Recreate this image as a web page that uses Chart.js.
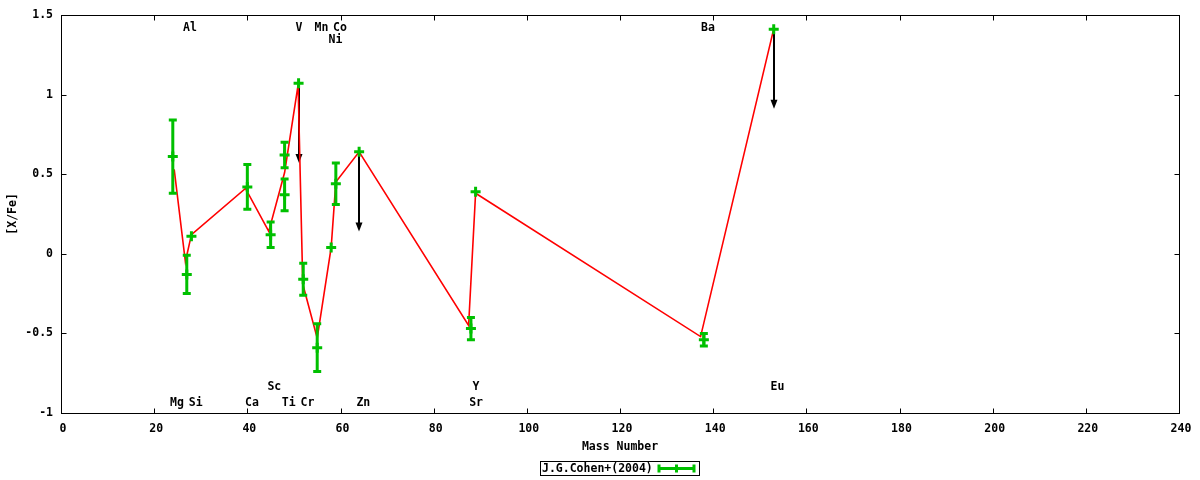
<!DOCTYPE html>
<html>
<head>
<meta charset="utf-8">
<script src="https://cdn.jsdelivr.net/npm/chart.js@4.4.1/dist/chart.umd.min.js"></script>
<style>
html, body { margin: 0; padding: 0; background: #fff; }
#wrap { width: 1200px; height: 480px; }
</style>
</head>
<body>
<div id="wrap"><canvas id="abundChart" width="1200" height="480"></canvas></div>
<script>
// J.G.Cohen+(2004) abundances
const elements   = ['Mg', 'Al', 'Si', 'Ca', 'Sc', 'Ti', 'Ti', 'V', 'Cr', 'Mn', 'Ni', 'Co', 'Zn', 'Sr', 'Y', 'Ba', 'Eu'];
const massNumber = [24, 27, 28, 40, 45, 48, 48, 51, 52, 55, 58, 59, 64, 88, 89, 138, 153];
const xFe        = [0.61, -0.13, 0.11, 0.42, 0.12, 0.62, 0.37, 1.07, -0.16, -0.59, 0.04, 0.44, 0.64, -0.47, 0.39, -0.54, 1.41];
const xFeErr     = [0.23, 0.12, 0, 0.14, 0.08, 0.08, 0.10, 0, 0.10, 0.15, 0, 0.13, 0, 0.07, 0, 0.04, 0];
const upperLimit = [0, 0, 0, 0, 0, 0, 0, 1, 0, 0, 0, 0, 1, 0, 0, 0, 1];
const limitDrop  = 0.5;

// red connecting line
const lineMass = [24.3, 26.7, 28.0, 39.6, 44.6, 48.0, 50.9, 51.9, 55.0, 58.0, 59.0, 64.0, 87.5, 89.0, 137.3, 152.9];
const lineXFe  = [0.53, -0.05, 0.12, 0.41, 0.14, 0.51, 1.06, -0.19, -0.53, 0.04, 0.45, 0.64, -0.45, 0.38, -0.52, 1.40];

// element name labels
const labelText = ['Al', 'V', 'Mn', 'Co', 'Ba', 'Ni', 'Sc', 'Y', 'Eu', 'Mg', 'Si', 'Ca', 'Ti', 'Cr', 'Zn', 'Sr'];
const labelMass = [27.7, 51.1, 55.9, 59.9, 138.9, 58.9, 45.8, 89.1, 153.8, 24.9, 28.9, 41.0, 48.9, 52.9, 64.9, 89.1];
const labelXFe  = [1.42, 1.42, 1.42, 1.42, 1.42, 1.345, -0.835, -0.835, -0.835, -0.94, -0.94, -0.94, -0.94, -0.94, -0.94, -0.94];

const xTicks = [0, 20, 40, 60, 80, 100, 120, 140, 160, 180, 200, 220, 240];
const yTicks = [-1, -0.5, 0, 0.5, 1, 1.5];

const GREEN = '#00c000';
const FONT = { family: '"DejaVu Sans Mono", "Liberation Mono", monospace', size: 11.5, weight: 'bold' };
const fontStr = 'bold 11.5px "DejaVu Sans Mono", "Liberation Mono", monospace';

function arrowDown(ctx, x, y0, y1) {
  ctx.strokeStyle = '#000';
  ctx.fillStyle = '#000';
  ctx.lineWidth = 2;
  ctx.beginPath();
  ctx.moveTo(x, y0);
  ctx.lineTo(x, y1 - 4);
  ctx.stroke();
  ctx.beginPath();
  ctx.moveTo(x - 3.5, y1 - 9);
  ctx.lineTo(x + 3.5, y1 - 9);
  ctx.lineTo(x, y1);
  ctx.closePath();
  ctx.fill();
}

const gnuplotStyle = {
  id: 'gnuplotStyle',
  beforeDatasetsDraw(chart) {
    const ctx = chart.ctx, xs = chart.scales.x, ys = chart.scales.y;
    ctx.save();
    massNumber.forEach((m, i) => {
      if (!upperLimit[i]) return;
      const px = Math.round(xs.getPixelForValue(m));
      arrowDown(ctx, px, ys.getPixelForValue(xFe[i]), ys.getPixelForValue(xFe[i] - limitDrop));
    });
    ctx.restore();
  },
  afterDatasetsDraw(chart) {
    const ctx = chart.ctx, xs = chart.scales.x, ys = chart.scales.y;
    ctx.save();
    // error bars
    ctx.strokeStyle = GREEN;
    ctx.lineWidth = 3;
    massNumber.forEach((m, i) => {
      if (!xFeErr[i]) return;
      const px = xs.getPixelForValue(m);
      const top = ys.getPixelForValue(xFe[i] + xFeErr[i]);
      const bot = ys.getPixelForValue(xFe[i] - xFeErr[i]);
      ctx.beginPath();
      ctx.moveTo(px, top); ctx.lineTo(px, bot);
      ctx.moveTo(px - 4, top); ctx.lineTo(px + 4, top);
      ctx.moveTo(px - 4, bot); ctx.lineTo(px + 4, bot);
      ctx.stroke();
    });
    // element labels
    ctx.fillStyle = '#000';
    ctx.font = fontStr;
    ctx.textAlign = 'center';
    ctx.textBaseline = 'middle';
    labelText.forEach((t, i) => {
      ctx.fillText(t, xs.getPixelForValue(labelMass[i]), ys.getPixelForValue(labelXFe[i]));
    });
    ctx.restore();
  },
  afterDraw(chart) {
    const ctx = chart.ctx, a = chart.chartArea, xs = chart.scales.x, ys = chart.scales.y;
    const L = Math.round(a.left) + 0.5, R = Math.round(a.right) + 0.5;
    const T = Math.round(a.top) + 0.5, B = Math.round(a.bottom) + 0.5;
    ctx.save();
    ctx.strokeStyle = '#000';
    ctx.lineWidth = 1;
    ctx.strokeRect(L, T, R - L, B - T);
    ctx.beginPath();
    xTicks.forEach(v => {
      const px = Math.round(xs.getPixelForValue(v)) + 0.5;
      ctx.moveTo(px, B); ctx.lineTo(px, B - 5);
      ctx.moveTo(px, T); ctx.lineTo(px, T + 5);
    });
    yTicks.forEach(v => {
      const py = Math.round(ys.getPixelForValue(v)) + 0.5;
      ctx.moveTo(L, py); ctx.lineTo(L + 5, py);
      ctx.moveTo(R, py); ctx.lineTo(R - 5, py);
    });
    ctx.stroke();

    // legend box
    const bx = 540.5, by = 461.5, bw = 159, bh = 14;
    ctx.strokeRect(bx, by, bw, bh);
    ctx.fillStyle = '#000';
    ctx.font = fontStr;
    ctx.textAlign = 'left';
    ctx.textBaseline = 'middle';
    ctx.fillText('J.G.Cohen+(2004)', 542, by + bh / 2 + 0.5);
    const ly = by + bh / 2, lx0 = 659, lx1 = 694;
    ctx.strokeStyle = GREEN;
    ctx.lineWidth = 3;
    ctx.beginPath();
    ctx.moveTo(lx0, ly); ctx.lineTo(lx1, ly);
    ctx.moveTo(lx0, ly - 4); ctx.lineTo(lx0, ly + 4);
    ctx.moveTo(lx1, ly - 4); ctx.lineTo(lx1, ly + 4);
    ctx.moveTo((lx0 + lx1) / 2, ly - 4); ctx.lineTo((lx0 + lx1) / 2, ly + 4);
    ctx.stroke();
    ctx.restore();
  }
};

const ctx = document.getElementById('abundChart').getContext('2d');
const abundChart = new Chart(ctx, {
  type: 'scatter',
  data: {
    datasets: [
      {
        label: 'J.G.Cohen+(2004)',
        data: massNumber.map((m, i) => ({ x: m, y: xFe[i] })),
        pointStyle: 'cross',
        pointRadius: 5,
        pointHoverRadius: 5,
        pointBorderColor: GREEN,
        pointBorderWidth: 3,
        borderColor: GREEN,
        showLine: false
      },
      {
        label: 'line',
        data: lineMass.map((m, i) => ({ x: m, y: lineXFe[i] })),
        showLine: true,
        pointRadius: 0,
        borderColor: '#ff0000',
        borderWidth: 1.6,
        fill: false
      }
    ]
  },
  options: {
    responsive: false,
    animation: false,
    events: [],
    layout: { padding: { top: 13, right: 21, left: 0, bottom: 0 } },
    plugins: {
      legend: { display: false },
      tooltip: { enabled: false }
    },
    scales: {
      x: {
        type: 'linear',
        min: 0,
        max: 240,
        afterBuildTicks: s => { s.ticks = xTicks.map(v => ({ value: v })); },
        afterFit: s => { s.height = 67; },
        grid: { display: false, drawTicks: false },
        border: { display: false },
        ticks: {
          font: FONT, color: '#000', padding: 9, maxRotation: 0, autoSkip: false, labelOffset: 2,
          callback: v => String(v)
        },
        title: { display: true, text: 'Mass Number', font: FONT, color: '#000', padding: { top: 0, bottom: 26 } }
      },
      y: {
        type: 'linear',
        min: -1,
        max: 1.5,
        afterBuildTicks: s => { s.ticks = yTicks.map(v => ({ value: v })); },
        afterFit: s => { s.width = 61; },
        grid: { display: false, drawTicks: false },
        border: { display: false },
        ticks: {
          font: FONT, color: '#000', padding: 8, autoSkip: false,
          callback: v => String(v)
        },
        title: { display: true, text: '[X/Fe]', font: FONT, color: '#000', padding: { top: 6, bottom: 0 } }
      }
    }
  },
  plugins: [gnuplotStyle]
});
</script>
</body>
</html>
